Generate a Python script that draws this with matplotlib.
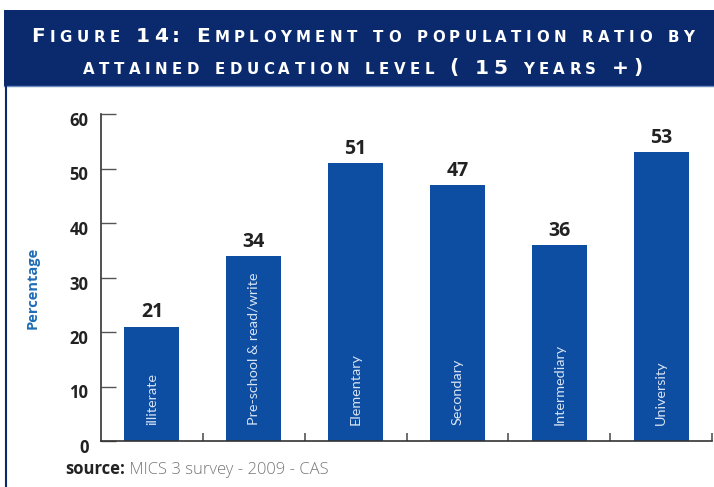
import matplotlib.pyplot as plt
from matplotlib.patches import Rectangle
from matplotlib.lines import Line2D
from matplotlib.offsetbox import TextArea, HPacker, DrawingArea, AnnotationBbox
from matplotlib.transforms import ScaledTranslation

categories = ["illiterate", "Pre-school & read/write", "Elementary",
              "Secondary", "Intermediary", "University"]
values = [21, 34, 51, 47, 36, 53]

title_lines = ["Figure 14: Employment to population ratio by",
               "attained education level ( 15 years +)"]
source_head = "source:"
source_body = "MICS 3 survey - 2009 - CAS"

NAVY = "#0b2a6e"
BAR = "#0d4ea2"
W, H = 714, 487

plt.rcParams["font.family"] = ["Open Sans", "DejaVu Sans"]

fig = plt.figure(figsize=(W / 100, H / 100), dpi=100)

# title banner
fig.add_artist(Rectangle((4 / W, 1 - 86 / H), 1 - 4 / W, 76 / H,
                         transform=fig.transFigure, color=NAVY, lw=0))
fig.add_artist(Line2D([4 / W, 1], [1 - 86.5 / H] * 2, transform=fig.transFigure,
                      color="#6b8cc0", lw=1))
fig.add_artist(Line2D([5.5 / W] * 2, [0, 1 - 86 / H], transform=fig.transFigure,
                      color=NAVY, lw=1.5))


def small_caps(line, big=14.5, small=10.8):
    # fake small caps: lowercase letters drawn as smaller capitals
    kids = []
    for ch in line:
        if ch == " ":
            kids.append(DrawingArea(5, 1))
            continue
        size = small if ch.islower() else big
        kids.append(TextArea(ch.upper(), textprops=dict(
            color="white", fontsize=size, family="DejaVu Sans",
            fontweight="bold")))
    return HPacker(children=kids, align="baseline", pad=0, sep=3.2)


for line, yc in zip(title_lines, [37, 68]):
    ab = AnnotationBbox(small_caps(line), (0.508, 1 - yc / H),
                        xycoords="figure fraction", frameon=False,
                        box_alignment=(0.5, 0.5), pad=0)
    fig.add_artist(ab)

ax = fig.add_axes([101 / W, 1 - 441 / H, 611 / W, 327 / H])
x = range(len(categories))
bars = ax.bar(x, values, width=0.54, color=BAR, zorder=2)

ax.set_xlim(-0.5, 5.5)
ax.set_ylim(0, 60)
ax.set_yticks(range(0, 61, 10))
ax.set_xticks([i + 0.5 for i in x])
ax.set_xticklabels([])
for s in ["top", "right"]:
    ax.spines[s].set_visible(False)
for s in ["left", "bottom"]:
    ax.spines[s].set_color("#333333")
    ax.spines[s].set_linewidth(1.2)
ax.tick_params(axis="y", direction="in", length=11, width=1, color="#555555",
               labelsize=12, labelcolor="#222222", pad=9)
ax.tick_params(axis="x", direction="in", length=5.5, width=1.2, color="#555555")
for lab in ax.get_yticklabels():
    lab.set_fontweight("bold")
    lab.set_transform(lab.get_transform() + ScaledTranslation(0, -5 / 100, fig.dpi_scale_trans))

ax.set_ylabel("Percentage", color="#1f6cb5", fontsize=10.5, fontweight="bold")
ax.yaxis.set_label_coords(-0.1, 0.468)

for b, v, name in zip(bars, values, categories):
    cx = b.get_x() + b.get_width() / 2
    ax.annotate(str(v), (cx, v), xytext=(0, 3), textcoords="offset points",
                ha="center", va="bottom", fontsize=14, fontweight="bold",
                color="#222222")
    ax.text(cx, 3, name, rotation=90, ha="center", va="bottom",
            fontsize=10.4, color="#d8e3f4", family=["Lato", "DejaVu Sans"])

t1 = fig.text(65 / W, 1 - 474 / H, source_head, fontsize=12, fontweight="bold",
              color="#222222", va="baseline")
fig.add_artist(plt.Annotation(" " + source_body, xy=(1, 0), xycoords=t1,
                              va="bottom", ha="left", fontsize=12,
                              color="#777777", fontweight="light"))

fig.savefig("out.png", dpi=100)
